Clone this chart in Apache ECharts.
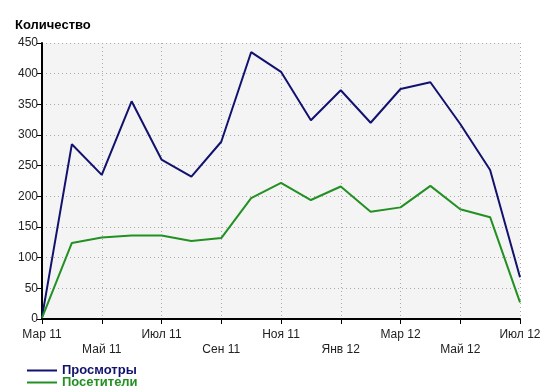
<!DOCTYPE html>
<html><head><meta charset="utf-8">
<script src="https://cdn.jsdelivr.net/npm/echarts@6/dist/echarts.min.js"></script>
<style>html,body{margin:0;padding:0;background:#fff}#c{width:550px;height:392px}</style>
</head><body><div id="c"></div>
<script>
const months = ['Мар 11','Апр 11','Май 11','Июн 11','Июл 11','Авг 11','Сен 11','Окт 11','Ноя 11','Дек 11','Янв 12','Фев 12','Мар 12','Апр 12','Май 12','Июн 12','Июл 12'];
const views    = [3, 285, 235, 355, 260, 232, 289, 435, 403, 324, 373, 320, 375, 386, 318, 243, 68];
const visitors = [2, 124, 133, 136, 136, 127, 132, 197, 222, 194, 216, 175, 182, 217, 179, 166, 27];
const seriesNames = ['Просмотры','Посетители'];
const colors = ['#12126e','#229022'];

const chart = echarts.init(document.getElementById('c'));
const font = 'Liberation Sans, Arial, sans-serif';
const legendText = {fontFamily:font, fontWeight:'bold', fontSize:13};
chart.setOption({
  animation:false,
  title:{text:'Количество', left:10, top:14, textStyle:{fontFamily:font, fontWeight:'bold', fontSize:13, color:'#000'}},
  legend:[
    {left:22, top:359, itemGap:0, itemWidth:30, itemHeight:2, icon:'rect',
     data:[{name:seriesNames[0], textStyle:Object.assign({color:colors[0]}, legendText)}]},
    {left:22, top:371, itemGap:0, itemWidth:30, itemHeight:2, icon:'rect',
     data:[{name:seriesNames[1], textStyle:Object.assign({color:colors[1]}, legendText)}]}
  ],
  grid:{left:42, right:30, top:43, bottom:73, show:true, backgroundColor:'#f4f4f4', borderWidth:0},
  xAxis:{type:'category', data:months, boundaryGap:false,
    axisLine:{lineStyle:{color:'#000', width:2}},
    axisTick:{interval:1, length:5, lineStyle:{color:'#000', width:1}},
    splitLine:{show:true, interval:1, lineStyle:{color:'#aaa', type:[1,3], width:1}},
    axisLabel:{interval:0, margin:8, color:'#222', fontFamily:font, fontSize:12, lineHeight:15,
      formatter:(v,i)=> i%2 ? '' : ((i/2)%2 ? '\n'+v : v)}},
  yAxis:{type:'value', min:0, max:450, interval:50,
    axisLine:{show:true, lineStyle:{color:'#000', width:2}},
    axisTick:{show:true, length:5, lineStyle:{color:'#000'}},
    splitLine:{show:true, lineStyle:{color:'#aaa', type:[1,3], width:1}},
    axisLabel:{margin:4, color:'#222', fontFamily:font, fontSize:12}},
  series:[
    {name:seriesNames[0], type:'line', data:views, symbol:'none', lineStyle:{color:colors[0], width:2}, itemStyle:{color:colors[0]}},
    {name:seriesNames[1], type:'line', data:visitors, symbol:'none', lineStyle:{color:colors[1], width:2}, itemStyle:{color:colors[1]}}
  ]
});
</script></body></html>
